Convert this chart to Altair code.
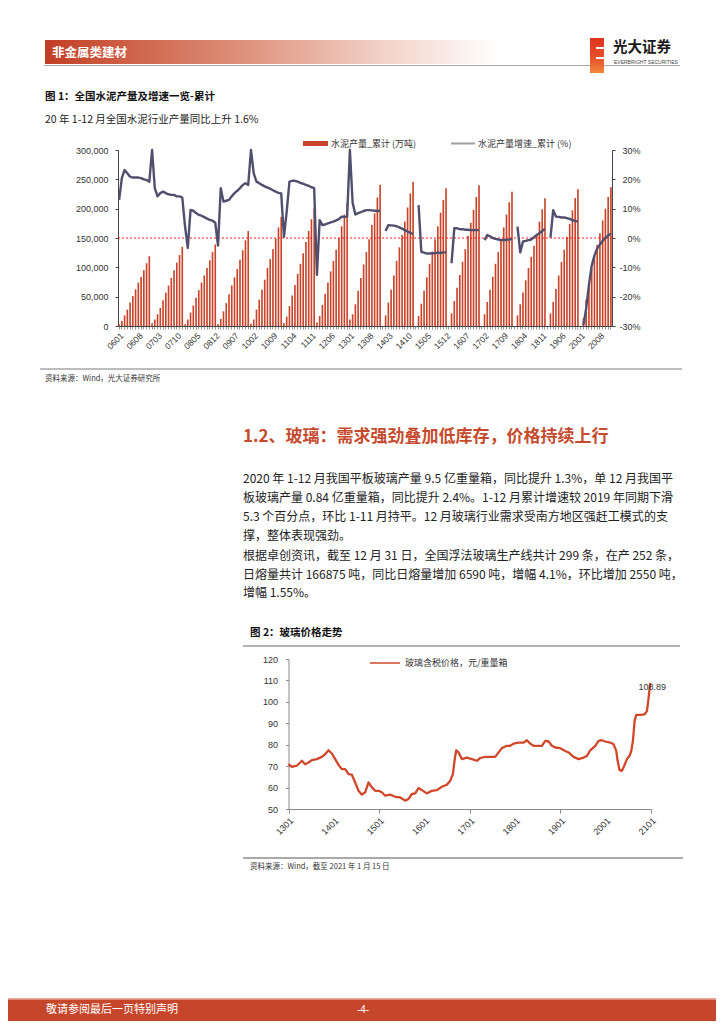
import json
import altair as alt
import pandas as pd

W, H = 708, 1016
M = 8


def P(v):
    return v - M


CJK = "Noto Sans CJK SC"
LAT = "Liberation Sans"

# ---------------- Figure 1 data: cement output (cumulative, 10k t) and cumulative YoY (%) ----------------
YEARS = list(range(2006, 2021))
PROD_2006 = [3000, 8500, 18000, 28000, 40000, 51000, 62500, 74000, 83500, 95000, 107000, 119000]
PROD_2007 = [4500, 11000, 20000, 31000, 44000, 57000, 69000, 82000, 95000, 108000, 121000, 135000]
PROD_2008 = [3000, 11000, 23000, 35000, 48000, 61000, 74000, 86000, 99000, 112000, 126000, 139000]
PROD_2009 = [3500, 12000, 25000, 39000, 54000, 69000, 83000, 97000, 113000, 129000, 146000, 162000]
PROD_2010 = [4000, 11000, 28000, 45000, 62000, 79000, 99000, 114000, 131000, 149000, 168000, 186000]
PROD_2011 = [5000, 16000, 34000, 52000, 70000, 89000, 106000, 124000, 143000, 162000, 182000, 200000]
PROD_2012 = [6000, 17000, 36000, 55000, 74000, 93000, 111000, 130000, 150000, 170000, 190000, 210000]
PROD_2013 = [11000, 20000, 37000, 60000, 82000, 105000, 126000, 148000, 172000, 192000, 219000, 240600]
PROD_2014 = [None, 18000, 40000, 62000, 86000, 111000, 134000, 155000, 178000, 202000, 226000, 246000]
PROD_2015 = [None, 17000, 38000, 60000, 83000, 106000, 127000, 148000, 170000, 193000, 215000, 235000]
PROD_2016 = [None, 21600, 42600, 65000, 87000, 109600, 131000, 154000, 176000, 198000, 220000, 240000]
PROD_2017 = [None, 20000, 41000, 62000, 84000, 106000, 126000, 147000, 168000, 190000, 211000, 229000]
PROD_2018 = [None, 18000, 37000, 57000, 78000, 99000, 118000, 137000, 157000, 178000, 199000, 217600]
PROD_2019 = [None, 21500, 41000, 63000, 86000, 109000, 130000, 152000, 174000, 197000, 218000, 233000]
PROD_2020 = [None, 13000, 45000, 75000, 98000, 118000, 138000, 158000, 180000, 200000, 220000, 236600]

GROWTH_2006 = [13.0, 20.4, 23.2, 22.1, 20.9, 20.6, 20.6, 20.6, 20.4, 20.0, 19.8, 19.2]
GROWTH_2007 = [38.0, 17.0, 14.2, 15.3, 15.8, 15.3, 14.9, 14.7, 14.7, 14.2, 14.2, 13.8]
GROWTH_2008 = [4.0, -3.4, 9.6, 9.3, 8.5, 7.9, 7.6, 7.1, 6.6, 6.2, 5.9, 5.2]
GROWTH_2009 = [-2.6, 17.0, 12.4, 12.7, 13.0, 14.2, 15.3, 16.1, 17.0, 18.1, 18.7, 18.1]
GROWTH_2010 = [38.0, 22.0, 19.2, 18.7, 18.1, 17.6, 17.2, 16.8, 16.3, 15.8, 15.4, 15.2]
GROWTH_2011 = [0.4, 9.0, 19.2, 19.5, 19.5, 19.2, 18.8, 18.5, 18.1, 17.8, 17.3, 17.0]
GROWTH_2012 = [-12.6, 6.1, 4.4, 4.6, 5.0, 5.3, 5.6, 6.0, 6.4, 7.3, 7.2, 7.3]
GROWTH_2013 = [38.0, 12.0, 8.0, 8.5, 8.8, 9.2, 9.5, 9.5, 9.4, 9.3, 9.2, 9.3]
GROWTH_2014 = [None, 2.4, 4.4, 4.3, 4.2, 4.0, 3.6, 3.2, 2.7, 2.2, 1.8, 1.3]
GROWTH_2015 = [None, 11.2, -4.7, -5.0, -5.3, -5.3, -5.2, -5.2, -5.0, -5.1, -4.9, -4.9]
GROWTH_2016 = [None, -8.6, 3.3, 3.3, 3.0, 3.0, 2.8, 2.8, 2.7, 2.7, 2.7, 2.7]
GROWTH_2017 = [None, -0.7, 1.0, 0.6, 0.0, -0.3, -0.5, -0.7, -0.7, -0.6, -0.5, -0.3]
GROWTH_2018 = [None, 3.9, -4.9, -1.2, -1.0, -0.7, -0.5, 0.3, 1.0, 1.6, 2.4, 3.1]
GROWTH_2019 = [None, 0.1, 9.5, 7.3, 7.2, 7.0, 7.0, 6.8, 6.5, 6.1, 5.8, 5.6]
GROWTH_2020 = [None, -29.7, -24.0, -16.0, -9.5, -6.0, -3.6, -2.2, -1.0, 0.0, 0.8, 1.6]

X1_LABELS = ["0601", "0608", "0703", "0710", "0805", "0812", "0907", "1002", "1009",
             "1104", "1111", "1206", "1301", "1308", "1403", "1410", "1505", "1512",
             "1607", "1702", "1709", "1804", "1811", "1906", "2001", "2008"]
Y1_TICKS = [0, 50000, 100000, 150000, 200000, 250000, 300000]
Y1R_TICKS = [-30, -20, -10, 0, 10, 20, 30]

# ---------------- Figure 2 data: glass price (yuan / weight box) ----------------
GLASS_T = [2013.000, 2013.074, 2013.184, 2013.258, 2013.294, 2013.368, 2013.442, 2013.515,
           2013.625, 2013.736, 2013.809, 2013.883, 2013.957, 2014.030, 2014.104, 2014.177,
           2014.251, 2014.325, 2014.398, 2014.472, 2014.545, 2014.619, 2014.692, 2014.766,
           2014.840, 2014.913, 2014.987, 2015.060, 2015.134, 2015.244, 2015.355, 2015.465,
           2015.575, 2015.649, 2015.723, 2015.796, 2015.870, 2015.943, 2016.054, 2016.164,
           2016.274, 2016.385, 2016.495, 2016.569, 2016.628, 2016.664, 2016.701, 2016.753,
           2016.826, 2016.937, 2017.047, 2017.158, 2017.231, 2017.341, 2017.452, 2017.562,
           2017.636, 2017.709, 2017.820, 2017.893, 2017.967, 2018.077, 2018.188, 2018.261,
           2018.335, 2018.408, 2018.482, 2018.592, 2018.666, 2018.740, 2018.813, 2018.887,
           2018.997, 2019.107, 2019.181, 2019.291, 2019.402, 2019.512, 2019.586, 2019.659,
           2019.770, 2019.843, 2019.917, 2019.990, 2020.101, 2020.174, 2020.233, 2020.263,
           2020.307, 2020.358, 2020.410, 2020.469, 2020.528, 2020.565, 2020.601, 2020.638,
           2020.675, 2020.763, 2020.859, 2020.910, 2020.947, 2020.984]
GLASS_P = [70.9, 69.7, 70.2, 71.7, 72.5, 70.9, 71.7, 72.8,
           73.3, 74.3, 75.6, 77.4, 75.9, 73.3, 70.6, 68.6,
           68.6, 66.3, 66.0, 62.4, 58.5, 56.7, 57.8, 62.4,
           60.1, 58.5, 58.5, 57.8, 56.2, 56.7, 55.7, 55.4,
           53.9, 54.7, 57.0, 57.3, 59.8, 58.8, 57.3, 58.5,
           58.8, 60.4, 61.3, 63.2, 66.3, 72.5, 77.4, 76.4,
           73.3, 74.0, 73.3, 72.5, 73.8, 74.3, 74.3, 74.3,
           76.4, 78.4, 79.5, 79.5, 80.5, 81.0, 81.0, 82.1,
           80.5, 79.5, 79.5, 79.5, 81.8, 81.5, 79.5, 78.7,
           78.4, 77.1, 76.4, 74.3, 73.3, 74.0, 74.8, 77.4,
           79.5, 81.8, 82.1, 81.5, 81.0, 80.2, 77.1, 72.5,
           68.1, 67.8, 70.2, 73.3, 74.8, 77.1, 81.8, 91.1,
           93.9, 93.9, 94.2, 95.7, 101.9, 108.89]
X2_TICKS = list(range(2013, 2022))
Y2_TICKS = [50, 60, 70, 80, 90, 100, 110, 120]

# ---------------- Text ----------------
HEADER = "非金属类建材"
LOGO_CN = "光大证券"
LOGO_EN = "EVERBRIGHT SECURITIES"
FIG1_TITLE = "图 1：全国水泥产量及增速一览-累计"
FIG1_SUB = "20 年 1-12 月全国水泥行业产量同比上升 1.6%"
LEG1_BAR = "水泥产量_累计 (万吨)"
LEG1_LINE = "水泥产量增速_累计 (%)"
SRC1 = "资料来源：Wind，光大证券研究所"
HEADING = "1.2、玻璃：需求强劲叠加低库存，价格持续上行"
PARA = [
    "2020 年 1-12 月我国平板玻璃产量 9.5 亿重量箱，同比提升 1.3%，单 12 月我国平",
    "板玻璃产量 0.84 亿重量箱，同比提升 2.4%。1-12 月累计增速较 2019 年同期下滑",
    "5.3 个百分点，环比 1-11 月持平。12 月玻璃行业需求受南方地区强赶工模式的支",
    "撑，整体表现强劲。",
    "根据卓创资讯，截至 12 月 31 日，全国浮法玻璃生产线共计 299 条，在产 252 条，",
    "日熔量共计 166875 吨，同比日熔量增加 6590 吨，增幅 4.1%，环比增加 2550 吨，",
    "增幅 1.55%。",
]
PARA_Y = [479, 498, 517, 536, 556, 575, 593]
FIG2_TITLE = "图 2：玻璃价格走势"
LEG2 = "玻璃含税价格，元/重量箱"
SRC2 = "资料来源：Wind，截至 2021 年 1 月 15 日"
FOOT = "敬请参阅最后一页特别声明"
PAGE_NO = "-4-"

BAR_C = "#C8452B"
LINE1_C = "#50506E"
LINE2_C = "#D1472A"

# ---------------- Build tables ----------------
PROD = [PROD_2006, PROD_2007, PROD_2008, PROD_2009, PROD_2010, PROD_2011, PROD_2012, PROD_2013,
        PROD_2014, PROD_2015, PROD_2016, PROD_2017, PROD_2018, PROD_2019, PROD_2020]
GROWTH = [GROWTH_2006, GROWTH_2007, GROWTH_2008, GROWTH_2009, GROWTH_2010, GROWTH_2011, GROWTH_2012,
          GROWTH_2013, GROWTH_2014, GROWTH_2015, GROWTH_2016, GROWTH_2017, GROWTH_2018, GROWTH_2019,
          GROWTH_2020]
MONTHS = [f"{y % 100:02d}{m:02d}" for y in YEARS for m in range(1, 13)]

bar_rows, line_rows = [], []
seg = 0
for yi, y in enumerate(YEARS):
    for mi in range(12):
        mk = f"{y % 100:02d}{mi + 1:02d}"
        p = PROD[yi][mi]
        g = GROWTH[yi][mi]
        if p is not None:
            bar_rows.append({"m": mk, "prod": p})
        if g is None:
            seg += 1
        else:
            line_rows.append({"m": mk, "g": g, "seg": seg})
df_bar = pd.DataFrame(bar_rows)
df_line = pd.DataFrame(line_rows)
df_glass = pd.DataFrame({"t": GLASS_T, "p": GLASS_P})
df_last = df_glass.tail(1).assign(lab=lambda d: d["p"].map(lambda v: f"{v:.2f}"))
one = pd.DataFrame({"a": [0]})

# ---------------- Helpers ----------------


def txt(s, x, y, size=12, color="#222", weight="normal", font=CJK, align="left"):
    return alt.Chart(one).mark_text(
        text=s, align=align, baseline="middle", fontSize=size, font=font,
        color=color, fontWeight=weight
    ).encode(x=alt.value(P(x)), y=alt.value(P(y)))


def hrule(x1, x2, y, color="#888", width=1.0, dash=None):
    kw = dict(color=color, strokeWidth=width)
    if dash:
        kw["strokeDash"] = dash
    return alt.Chart(one).mark_rule(**kw).encode(
        x=alt.value(P(x1)), x2=alt.value(P(x2)), y=alt.value(P(y)))


def box(x1, x2, y1, y2, color):
    return alt.Chart(one).mark_rect(color=color).encode(
        x=alt.value(P(x1)), x2=alt.value(P(x2)), y=alt.value(P(y1)), y2=alt.value(P(y2)))


layers = []

# header
layers.append(box(45, 500, 40, 64, alt.LinearGradient(
    gradient="linear", x1=0, x2=1, y1=0, y2=0,
    stops=[alt.GradientStop(color="#C23E25", offset=0),
           alt.GradientStop(color="#DC8A73", offset=0.4),
           alt.GradientStop(color="#F3D3CA", offset=0.75),
           alt.GradientStop(color="#FFFFFF", offset=1)])))
layers.append(txt(HEADER, 52, 52.5, size=12.5, color="white", weight="bold"))
layers.append(hrule(44, 680, 65.5, color="#A8A8A8", width=1))
layers.append(box(590, 604, 38, 73, alt.LinearGradient(
    gradient="linear", x1=0, x2=0, y1=0, y2=1,
    stops=[alt.GradientStop(color="#E0321F", offset=0),
           alt.GradientStop(color="#E4542A", offset=0.6),
           alt.GradientStop(color="#F0873A", offset=1)])))
layers.append(box(596, 604, 47, 49, "white"))
layers.append(box(596, 604, 57, 59, "white"))
layers.append(txt(LOGO_CN, 613, 48, size=14.5, color="#1a1a1a", weight="bold"))
layers.append(txt(LOGO_EN, 614, 61.5, size=5, color="#444", font=LAT))

# figure 1 titles + legend
layers.append(txt(FIG1_TITLE, 45, 97, size=10.5, color="#111", weight="bold"))
layers.append(txt(FIG1_SUB, 45, 120, size=10.5, color="#222"))
layers.append(box(303, 328, 141, 146, BAR_C))
layers.append(txt(LEG1_BAR, 331, 143.5, size=9, color="#333"))
layers.append(hrule(451, 475, 143.5, color="#A0A0A0", width=2))
layers.append(txt(LEG1_LINE, 478, 143.5, size=9, color="#333"))

# figure 1 plot
X1L, X1R, Y1T, Y1B = 118, 612, 150, 326
x1_band = alt.Scale(type="band", domain=MONTHS, range=[P(X1L), P(X1R)], paddingInner=0.4, paddingOuter=0.1)
x1_point = alt.Scale(type="point", domain=MONTHS, range=[P(X1L), P(X1R)], padding=0.4)
y1_left = alt.Scale(domain=[0, 300000], range=[P(Y1B), P(Y1T)])
y1_right = alt.Scale(domain=[-30, 30], range=[P(Y1B), P(Y1T)], clamp=True)

label_expr = f"indexof({json.dumps(X1_LABELS)}, datum.value) >= 0 ? datum.value : ''"
bars = alt.Chart(df_bar).mark_bar(color=BAR_C).encode(
    x=alt.X("m:O", scale=x1_band, title=None, axis=alt.Axis(
        orient="bottom", offset=-(H - P(Y1B)), labelExpr=label_expr, labelAngle=-45,
        labelOverlap=False, labelBound=False, labelFontSize=8.5, labelPadding=2,
        tickSize=3, tickWidth=0.6, tickColor="#555", domainColor="#444")),
    y=alt.Y("prod:Q", scale=y1_left, title=None, axis=alt.Axis(
        orient="left", offset=-P(X1L), values=Y1_TICKS, labelExpr="format(datum.value, ',')",
        tickSize=3, labelPadding=7, domainColor="#444", tickColor="#444")),
)
layers.append(bars)

zero_rule = alt.Chart(one).mark_rule(color="#FF1A1A", strokeDash=[2, 2], strokeWidth=1.2).encode(
    x=alt.value(P(X1L)), x2=alt.value(P(X1R)),
    y=alt.YDatum(150000, scale=y1_left, axis=None))
layers.append(zero_rule)

gline = alt.Chart(df_line).mark_line(color=LINE1_C, strokeWidth=2.4, strokeJoin="round").encode(
    x=alt.X("m:O", scale=x1_point, axis=None),
    y=alt.Y("g:Q", scale=y1_right, title=None, axis=alt.Axis(
        orient="right", offset=-(W - P(X1R)), values=Y1R_TICKS, labelExpr="datum.value + '%'",
        labelAlign="right", labelPadding=25, tickSize=3, domainColor="#444", tickColor="#444")),
    detail="seg:N",
)
layers.append(gline)

layers.append(hrule(40, 682, 369, color="#7a7a7a", width=1))
layers.append(txt(SRC1, 45, 379, size=7.5, color="#333"))

# section text
layers.append(txt(HEADING, 243, 437, size=17, color="#C64B2E", weight="bold"))
for line, yy in zip(PARA, PARA_Y):
    layers.append(txt(line, 243, yy, size=12, color="#222"))

# figure 2
layers.append(txt(FIG2_TITLE, 250, 633, size=10.5, color="#111", weight="bold"))
layers.append(hrule(243, 680, 646, color="#666", width=1))
layers.append(hrule(370, 400, 663, color=LINE2_C, width=1.5))
layers.append(txt(LEG2, 405, 663, size=9, color="#333"))

X2L, X2R, Y2T, Y2B = 288.5, 651, 659, 809
x2s = alt.Scale(domain=[2013, 2021], range=[P(X2L), P(X2R)])
y2s = alt.Scale(domain=[50, 120], range=[P(Y2B), P(Y2T)])
glass = alt.Chart(df_glass).mark_line(color=LINE2_C, strokeWidth=2.3, strokeJoin="round").encode(
    x=alt.X("t:Q", scale=x2s, title=None, axis=alt.Axis(
        orient="bottom", offset=-(H - P(Y2B)), values=X2_TICKS,
        labelExpr="format(datum.value % 100, '02') + '01'", labelAngle=-45, labelFontSize=9,
        labelPadding=3, tickSize=4,
        tickOpacity={"condition": {"test": "datum.value % 2 == 1", "value": 1}, "value": 0},
        domainColor="#8a8a8a", tickColor="#8a8a8a")),
    y=alt.Y("p:Q", scale=y2s, title=None, axis=alt.Axis(
        orient="left", offset=-P(X2L), values=Y2_TICKS, tickSize=3, labelPadding=8,
        domainColor="#8a8a8a", tickColor="#8a8a8a")),
)
layers.append(glass)
last_lab = alt.Chart(df_last).mark_text(
    font=LAT, fontSize=9, color="#333", align="center", baseline="middle", dx=2, dy=4
).encode(x=alt.X("t:Q", scale=x2s, axis=None), y=alt.Y("p:Q", scale=y2s, axis=None), text="lab:N")
layers.append(last_lab)

layers.append(hrule(243, 683, 858, color="#555", width=1))
layers.append(txt(SRC2, 250, 867, size=7.5, color="#333"))

# footer
layers.append(box(8, 716, 998, 999.5, "#E8A595"))
layers.append(box(8, 716, 999.5, 1021, "#C6462B"))
layers.append(txt(FOOT, 46, 1010, size=11, color="white"))
layers.append(txt(PAGE_NO, 363, 1010, size=10, color="white", align="center", font=LAT))

chart = alt.layer(*layers).resolve_scale(x="independent", y="independent").properties(
    width=W, height=H, padding=0, autosize=alt.AutoSizeParams(type="none"), background="white"
).configure_view(stroke=None).configure_axis(
    labelFont=LAT, labelColor="#333", labelFontSize=9, grid=False
)

chart.save("out.html", embed_options={"renderer": "svg", "actions": False})
